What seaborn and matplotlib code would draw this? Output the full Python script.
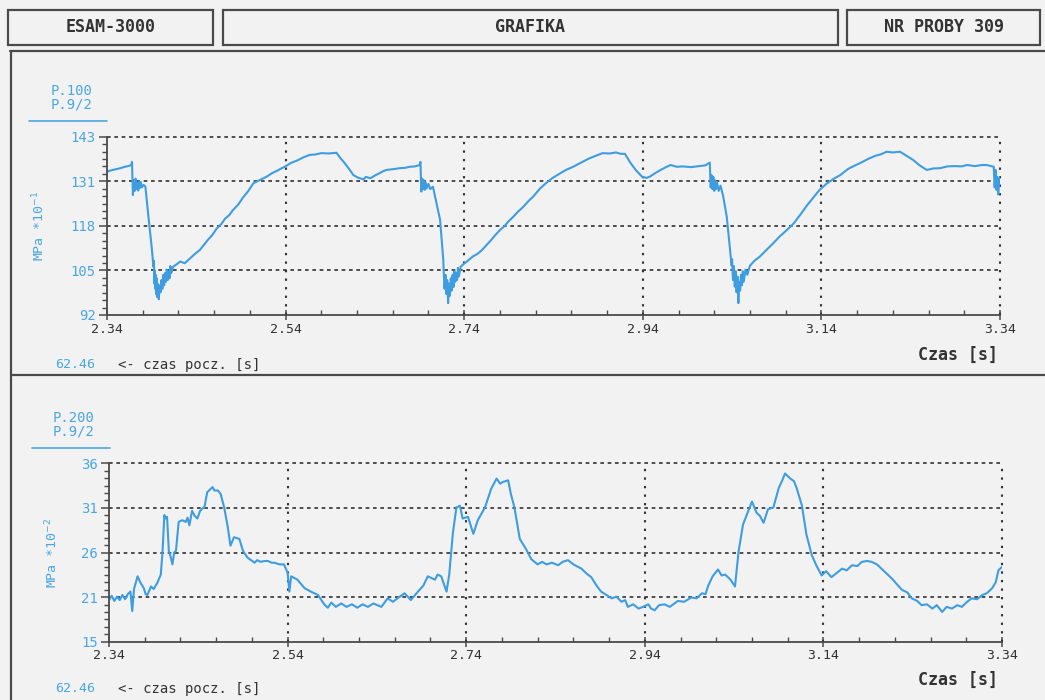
import numpy as np
import pandas as pd
import matplotlib
matplotlib.use("Agg")
import matplotlib.pyplot as plt
from matplotlib.lines import Line2D
from matplotlib.patches import Rectangle
from matplotlib.ticker import FixedLocator, FixedFormatter, AutoMinorLocator
import seaborn as sns

# ---- header / captions ----
header_left = "ESAM-3000"
header_mid = "GRAFIKA"
header_right = "NR PROBY 309"
start_time = "62.46"
start_caption = "<- czas pocz. [s]"
x_title = "Czas [s]"

# ---- axes ----
time_ticks = [2.34, 2.54, 2.74, 2.94, 3.14, 3.34]
time_labels = ["2.34", "2.54", "2.74", "2.94", "3.14", "3.34"]

p100_ticks = [92.0, 104.75, 117.5, 130.25, 143.0]
p100_labels = ["92", "105", "118", "131", "143"]
p200_ticks = [15.0, 20.25, 25.5, 30.75, 36.0]
p200_labels = ["15", "21", "26", "31", "36"]

# ---- channel P.100 (MPa *10^-1) ----
p100_t = [2.340, 2.345, 2.350, 2.355, 2.360, 2.364, 2.367, 2.368, 2.369, 2.370, 2.371, 2.372, 2.373, 2.374,
          2.375, 2.376, 2.377, 2.378, 2.379, 2.381, 2.383, 2.386, 2.390, 2.392, 2.3925, 2.393, 2.3935, 2.394,
          2.3945, 2.395, 2.3955, 2.396, 2.3965, 2.397, 2.398, 2.399, 2.400, 2.401, 2.402, 2.403, 2.404, 2.405,
          2.406, 2.407, 2.408, 2.409, 2.410, 2.411, 2.412, 2.414, 2.418, 2.422, 2.427, 2.433, 2.439, 2.444,
          2.448, 2.453, 2.458, 2.463, 2.468, 2.472, 2.477, 2.481, 2.487, 2.492, 2.498, 2.504, 2.511, 2.519,
          2.525, 2.530, 2.535, 2.539, 2.546, 2.553, 2.560, 2.567, 2.573, 2.580, 2.588, 2.597, 2.601, 2.606,
          2.611, 2.616, 2.621, 2.627, 2.630, 2.635, 2.640, 2.644, 2.649, 2.653, 2.660, 2.668, 2.674, 2.679,
          2.685, 2.690, 2.691, 2.692, 2.693, 2.694, 2.695, 2.696, 2.697, 2.698, 2.700, 2.702, 2.705, 2.709,
          2.713, 2.7166, 2.717, 2.718, 2.719, 2.720, 2.721, 2.722, 2.723, 2.724, 2.725, 2.726, 2.727, 2.728,
          2.729, 2.730, 2.731, 2.732, 2.733, 2.734, 2.736, 2.739, 2.743, 2.750, 2.755, 2.760, 2.765, 2.770,
          2.775, 2.780, 2.785, 2.790, 2.795, 2.800, 2.806, 2.812, 2.817, 2.821, 2.825, 2.832, 2.839, 2.846,
          2.854, 2.862, 2.871, 2.880, 2.888, 2.895, 2.903, 2.910, 2.915, 2.920, 2.926, 2.932, 2.939, 2.944,
          2.948, 2.954, 2.960, 2.966, 2.971, 2.978, 2.985, 2.994, 3.004, 3.010, 3.015, 3.016, 3.017, 3.018,
          3.019, 3.020, 3.021, 3.022, 3.023, 3.025, 3.027, 3.030, 3.034, 3.0395, 3.040, 3.041, 3.042, 3.043,
          3.044, 3.045, 3.046, 3.047, 3.048, 3.049, 3.050, 3.051, 3.052, 3.053, 3.055, 3.057, 3.060, 3.065,
          3.071, 3.078, 3.086, 3.093, 3.100, 3.109, 3.117, 3.124, 3.131, 3.138, 3.146, 3.154, 3.161, 3.170,
          3.177, 3.183, 3.192, 3.200, 3.207, 3.213, 3.220, 3.228, 3.235, 3.243, 3.250, 3.258, 3.265, 3.273,
          3.281, 3.290, 3.297, 3.303, 3.312, 3.320, 3.325, 3.330, 3.333, 3.334, 3.335, 3.336, 3.337, 3.338,
          3.339, 3.340]
p100_v = [133.0, 133.4, 133.7, 134.0, 134.4, 134.6, 134.9, 135.8, 126.3, 130.5, 127.5, 131.0, 128.0, 129.8,
          127.6, 130.2, 128.4, 130.0, 128.5, 129.2, 128.7, 121.1, 111.5, 105.8, 107.5, 101.0, 104.8, 99.5,
          103.5, 98.0, 102.5, 97.2, 101.0, 99.0, 96.5, 100.5, 98.5, 102.0, 99.5, 103.5, 100.5, 104.0,
          101.5, 105.0, 102.0, 104.5, 102.5, 106.0, 104.0, 105.8, 106.5, 107.3, 106.8, 108.2, 109.6, 110.6,
          111.9, 113.5, 114.9, 116.8, 118.0, 119.5, 120.6, 122.0, 123.6, 125.5, 127.4, 129.7, 130.6, 131.6,
          132.6, 133.2, 133.9, 134.4, 135.5, 136.2, 137.1, 137.8, 137.9, 138.3, 138.2, 138.4, 137.0, 135.5,
          133.8, 132.0, 131.3, 130.8, 131.5, 131.1, 131.9, 132.4, 133.1, 133.5, 133.7, 134.0, 134.1, 134.4,
          134.5, 134.9, 135.8, 127.3, 131.0, 128.0, 130.5, 127.8, 129.8, 128.2, 129.5, 128.0, 128.7, 124.0,
          119.2, 107.7, 104.5, 99.5, 103.5, 98.0, 102.0, 95.4, 101.0, 97.5, 102.5, 99.0, 103.5, 100.0,
          104.5, 101.5, 104.0, 102.0, 105.5, 103.0, 105.8, 106.5, 107.3, 108.8, 109.5, 110.6, 112.0, 113.4,
          114.9, 116.3, 117.4, 118.9, 120.1, 121.5, 122.9, 124.6, 125.8, 127.0, 128.2, 129.8, 131.2, 132.3,
          133.5, 134.4, 135.6, 136.8, 137.6, 138.3, 138.2, 138.5, 138.1, 138.1, 135.6, 133.5, 131.6, 131.2,
          131.6, 132.6, 133.5, 134.3, 134.9, 134.4, 134.5, 134.3, 134.6, 134.8, 135.6, 128.5, 132.0, 128.0,
          131.5, 127.5, 130.5, 128.0, 130.0, 127.5, 129.0, 126.0, 120.1, 106.1, 108.0, 102.0, 106.0, 100.1,
          104.5, 98.5, 103.0, 95.4, 101.5, 99.0, 103.5, 100.5, 104.5, 101.5, 105.0, 103.5, 106.1, 107.5,
          108.7, 110.5, 112.5, 114.4, 116.0, 118.2, 120.9, 123.4, 125.6, 127.8, 129.6, 131.0, 132.0, 133.8,
          134.7, 135.4, 136.6, 137.5, 138.0, 138.7, 138.5, 138.7, 137.6, 136.3, 134.8, 133.5, 133.9, 134.0,
          134.5, 134.6, 134.5, 134.9, 134.6, 134.9, 134.9, 134.6, 134.4, 128.5, 133.5, 127.8, 131.5, 126.5,
          130.0, 131.5]

# ---- channel P.200 (MPa *10^-2) ----
p200_t = [2.340, 2.343, 2.346, 2.349, 2.352, 2.355, 2.358, 2.361, 2.364, 2.366, 2.368, 2.372, 2.375, 2.379,
          2.381, 2.383, 2.387, 2.390, 2.394, 2.398, 2.400, 2.402, 2.403, 2.405, 2.407, 2.409, 2.411, 2.413,
          2.415, 2.418, 2.422, 2.426, 2.428, 2.430, 2.433, 2.436, 2.439, 2.442, 2.447, 2.450, 2.456, 2.458,
          2.462, 2.465, 2.469, 2.473, 2.476, 2.480, 2.486, 2.490, 2.495, 2.503, 2.506, 2.510, 2.514, 2.518,
          2.522, 2.525, 2.531, 2.536, 2.540, 2.542, 2.544, 2.551, 2.559, 2.566, 2.574, 2.581, 2.585, 2.589,
          2.594, 2.600, 2.606, 2.612, 2.618, 2.624, 2.630, 2.636, 2.645, 2.652, 2.658, 2.663, 2.671, 2.678,
          2.686, 2.692, 2.697, 2.705, 2.708, 2.712, 2.718, 2.721, 2.725, 2.729, 2.733, 2.736, 2.742, 2.748,
          2.753, 2.761, 2.768, 2.774, 2.778, 2.781, 2.787, 2.790, 2.794, 2.800, 2.807, 2.813, 2.820, 2.825,
          2.830, 2.836, 2.843, 2.848, 2.854, 2.860, 2.869, 2.875, 2.880, 2.886, 2.891, 2.897, 2.903, 2.908,
          2.914, 2.918, 2.921, 2.927, 2.933, 2.938, 2.944, 2.947, 2.951, 2.956, 2.962, 2.968, 2.977, 2.984,
          2.992, 2.998, 3.004, 3.008, 3.011, 3.016, 3.022, 3.026, 3.030, 3.036, 3.041, 3.045, 3.050, 3.056,
          3.060, 3.065, 3.069, 3.073, 3.078, 3.084, 3.090, 3.094, 3.097, 3.100, 3.103, 3.107, 3.110, 3.116,
          3.121, 3.127, 3.132, 3.138, 3.143, 3.149, 3.155, 3.161, 3.166, 3.172, 3.178, 3.183, 3.189, 3.194,
          3.200, 3.205, 3.211, 3.217, 3.222, 3.228, 3.234, 3.239, 3.245, 3.250, 3.256, 3.262, 3.267, 3.273,
          3.278, 3.284, 3.290, 3.295, 3.301, 3.306, 3.312, 3.318, 3.323, 3.329, 3.333, 3.336, 3.340]
p200_v = [19.9, 20.4, 19.8, 20.3, 19.9, 20.5, 20.0, 20.6, 20.9, 18.6, 21.2, 22.7, 22.0, 21.3,
          20.6, 20.5, 21.5, 21.2, 21.9, 22.9, 25.7, 29.9, 29.5, 29.7, 25.7, 25.0, 24.1, 25.5,
          25.7, 29.1, 29.3, 29.1, 29.6, 28.7, 30.4, 29.8, 29.5, 30.4, 30.9, 32.6, 33.2, 32.8,
          32.8, 32.4, 30.8, 28.5, 26.3, 27.3, 27.1, 25.7, 24.9, 24.3, 24.6, 24.4, 24.5, 24.5,
          24.3, 24.3, 24.1, 24.1, 23.1, 20.9, 22.7, 22.3, 21.3, 20.9, 20.5, 19.4, 19.0, 19.6,
          19.1, 19.5, 19.1, 19.4, 19.0, 19.4, 19.1, 19.5, 19.1, 20.1, 19.7, 20.1, 20.7, 19.9,
          20.9, 21.6, 22.7, 22.3, 22.9, 22.7, 20.9, 22.9, 27.7, 30.8, 31.0, 29.5, 29.7, 27.7,
          29.3, 30.8, 33.0, 34.2, 33.6, 33.8, 34.0, 32.4, 30.8, 27.1, 25.9, 24.7, 24.1, 24.4,
          24.1, 24.3, 24.0, 24.4, 24.6, 24.1, 23.6, 23.0, 22.6, 21.6, 20.9, 20.5, 20.1, 20.3,
          19.7, 19.9, 19.1, 19.4, 18.9, 19.1, 19.4, 18.9, 18.7, 19.3, 19.4, 19.1, 19.8, 19.7,
          20.2, 20.1, 20.7, 20.6, 21.6, 22.7, 23.5, 22.8, 22.9, 22.3, 21.5, 25.6, 28.8, 30.4,
          31.5, 30.2, 29.8, 29.0, 30.6, 30.8, 33.1, 34.0, 34.8, 34.5, 34.2, 33.9, 33.1, 31.0,
          27.6, 25.2, 24.0, 22.8, 23.3, 22.6, 23.1, 23.6, 23.4, 24.0, 23.9, 24.4, 24.5, 24.4,
          24.1, 23.6, 23.0, 22.4, 21.8, 21.1, 20.8, 20.1, 19.8, 19.3, 19.4, 18.9, 19.3, 18.5,
          19.1, 18.9, 19.3, 19.1, 19.7, 20.1, 20.0, 20.5, 20.7, 21.3, 22.0, 23.4, 23.8]

# ---- colours ----
BG = "#f2f2f2"
TRACE = "#3d9de0"
LABEL_BLUE = "#4aa6e2"
INK = "#333333"
FRAME = "#4a4a4a"

sns.set_theme(style="white", rc={"axes.facecolor": BG, "figure.facecolor": BG})
plt.rcParams["font.family"] = ["DejaVu Sans Mono", "DejaVu Sans"]

W, H = 1045, 700
fig = plt.figure(figsize=(W / 100, H / 100), dpi=100)


def fx(px):
    return px / W


def fy(py):
    return 1 - py / H


# header boxes
for x0, x1, txt in [(8, 213, header_left), (223, 838, header_mid), (847, 1040, header_right)]:
    fig.add_artist(Rectangle((fx(x0), fy(45)), fx(x1) - fx(x0), fy(10) - fy(45),
                             transform=fig.transFigure, fill=False, edgecolor=FRAME, lw=1.6))
    fig.text(fx((x0 + x1) / 2), fy(27), txt, ha="center", va="center",
             fontsize=12, fontweight="bold", color=INK)

# outer frame of the plotting area
fig.add_artist(Line2D([fx(10), fx(1045)], [fy(51), fy(51)], transform=fig.transFigure, color=FRAME, lw=1.6))
fig.add_artist(Line2D([fx(11), fx(11)], [fy(51), fy(700)], transform=fig.transFigure, color=FRAME, lw=1.6))
fig.add_artist(Line2D([fx(11), fx(1045)], [fy(375), fy(375)], transform=fig.transFigure, color=FRAME, lw=1.6))


def panel(rect, t, v, yticks, ylabels, ylab, name, lab_x, head_y, cap_y, title_y, name_cx, line_x):
    ax = fig.add_axes(rect)
    df = pd.DataFrame({"t": t, "v": v})
    sns.lineplot(data=df, x="t", y="v", ax=ax, color=TRACE, linewidth=1.5,
                 estimator=None, sort=False, zorder=3)
    ax.set_xlim(time_ticks[0], time_ticks[-1])
    ax.set_ylim(yticks[0], yticks[-1])
    ax.set_facecolor(BG)
    for s in ["top", "right"]:
        ax.spines[s].set_visible(False)
    for s in ["left", "bottom"]:
        ax.spines[s].set_color(FRAME)
        ax.spines[s].set_linewidth(1.3)
        ax.spines[s].set_zorder(5)

    ax.xaxis.set_major_locator(FixedLocator(time_ticks))
    ax.xaxis.set_major_formatter(FixedFormatter(time_labels))
    ax.xaxis.set_minor_locator(FixedLocator(np.round(np.arange(2.34, 3.345, 0.04), 2)))
    ax.yaxis.set_major_locator(FixedLocator(yticks))
    ax.yaxis.set_major_formatter(FixedFormatter(ylabels))
    ax.yaxis.set_minor_locator(AutoMinorLocator(6))

    ax.tick_params(axis="x", which="major", direction="inout", length=7, width=1.1,
                   color=FRAME, labelsize=9.5, labelcolor=INK, pad=2, bottom=True)
    ax.tick_params(axis="x", which="minor", direction="in", length=3.5, width=1.0,
                   color=FRAME, bottom=True)
    ax.tick_params(axis="y", which="major", direction="out", length=6, width=1.1,
                   color=FRAME, labelsize=10, labelcolor=LABEL_BLUE, pad=2, left=True)
    ax.tick_params(axis="y", which="minor", direction="out", length=3.5, width=1.0,
                   color=FRAME, left=True)

    # dashed horizontal grid and dotted vertical grid, including the top/right edges
    for y in yticks[1:]:
        ax.axhline(y, color=INK, lw=1.2, ls=(0, (2.2, 2.2)), zorder=1, clip_on=False)
    for x in time_ticks[1:]:
        ax.axvline(x, color=INK, lw=1.5, ls=(0, (1.1, 3.0)), zorder=1, clip_on=False)

    ax.set_xlabel("")
    ax.set_ylabel(ylab, color=LABEL_BLUE, fontsize=9.5)
    ax.yaxis.set_label_coords(lab_x, 0.5)

    # channel name block
    fig.text(fx(name_cx), fy(head_y), name[0], ha="center", va="center", fontsize=10, color=LABEL_BLUE)
    fig.text(fx(name_cx), fy(head_y + 13), name[1], ha="center", va="center", fontsize=10, color=LABEL_BLUE)
    fig.add_artist(Line2D([fx(line_x[0]), fx(line_x[1])], [fy(head_y + 30)] * 2,
                          transform=fig.transFigure, color=LABEL_BLUE, lw=1.2))

    # captions under the axis
    fig.text(fx(998), fy(title_y), x_title, ha="right", va="center", fontsize=12,
             fontweight="bold", color=INK)
    fig.text(fx(55), fy(cap_y), start_time, ha="left", va="center", fontsize=9.5, color=LABEL_BLUE)
    fig.text(fx(118), fy(cap_y), start_caption, ha="left", va="center", fontsize=10, color=INK)
    return ax


panel([fx(107), fy(315), 893 / W, 178.3 / H], p100_t, p100_v, p100_ticks, p100_labels,
      r"MPa *10$^{-1}$", ("P.100", "P.9/2"), -0.067, 91, 365, 355, 72, (29, 107))
panel([fx(109), fy(641.7), 893 / W, 178.4 / H], p200_t, p200_v, p200_ticks, p200_labels,
      r"MPa *10$^{-2}$", ("P.200", "P.9/2"), -0.054, 418, 689, 680, 74, (32, 110))

fig.savefig("out.png", dpi=100, facecolor=BG)
